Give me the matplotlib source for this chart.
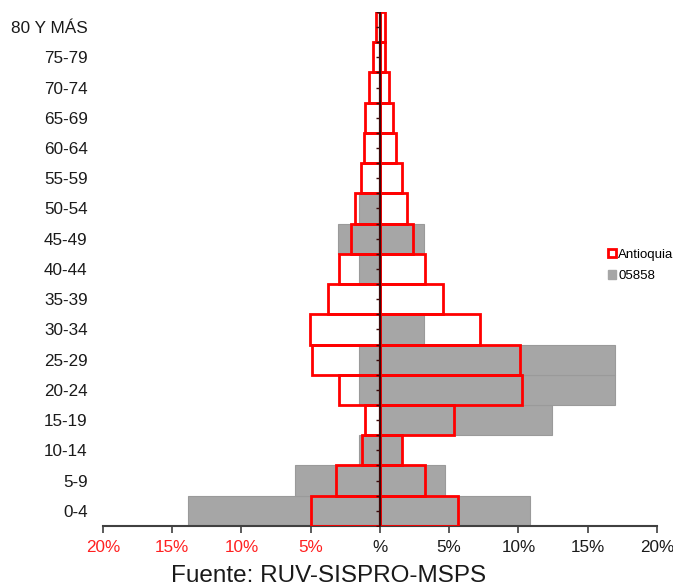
import matplotlib
matplotlib.use("Agg")
import matplotlib.pyplot as plt
from matplotlib.patches import Patch
import numpy as np

# age groups, bottom to top
grupos = ['0-4', '5-9', '10-14', '15-19', '20-24', '25-29', '30-34', '35-39',
          '40-44', '45-49', '50-54', '55-59', '60-64', '65-69', '70-74',
          '75-79', '80 Y MÁS']

# Antioquia (%), left side / right side
antioquia_izq = [4.96, 3.19, 1.30, 1.09, 2.95, 4.90, 5.05, 3.78, 2.95, 2.11,
                 1.77, 1.40, 1.18, 1.09, 0.81, 0.47, 0.31]
antioquia_der = [5.61, 3.26, 1.61, 5.33, 10.26, 10.11, 7.26, 4.59, 3.26, 2.39,
                 1.95, 1.58, 1.15, 0.93, 0.65, 0.40, 0.40]

# municipio 05858 (%)
mun_izq = [13.86, 6.14, 1.52, 0.0, 1.52, 1.52, 0.0, 0.0, 1.52, 3.05,
           1.52, 0.0, 0.0, 0.0, 0.0, 0.0, 0.0]
mun_der = [10.85, 4.68, 1.52, 12.40, 16.96, 16.96, 3.16, 0.0, 0.0, 3.15,
           0.0, 0.0, 0.0, 0.0, 0.0, 0.0, 0.0]

xticks = [-20, -15, -10, -5, 0, 5, 10, 15, 20]
xtick_labels = ['20%', '15%', '10%', '5%', '%', '5%', '10%', '15%', '20%']

fuente = ['Liberation Sans', 'DejaVu Sans']

fig = plt.figure(figsize=(6.73, 5.87), dpi=100)
ax = fig.add_axes([0.153, 0.104, 0.823, 0.8757])

y = np.arange(len(grupos))
izq_a = -np.array(antioquia_izq)
der_a = np.array(antioquia_der)
izq_m = -np.array(mun_izq)
der_m = np.array(mun_der)

# white fill of the Antioquia boxes
ax.barh(y, izq_a, height=1.0, color='white', zorder=1)
ax.barh(y, der_a, height=1.0, color='white', zorder=1)
# municipio bars
ax.barh(y, izq_m, height=1.0, color='#a6a6a6', edgecolor='#9a9a9a', linewidth=0.8, zorder=2)
ax.barh(y, der_m, height=1.0, color='#a6a6a6', edgecolor='#9a9a9a', linewidth=0.8, zorder=2)
# red outlines
ax.barh(y, izq_a, height=1.0, fill=False, edgecolor='#ff0000', linewidth=2.0, zorder=3)
ax.barh(y, der_a, height=1.0, fill=False, edgecolor='#ff0000', linewidth=2.0, zorder=3)

# center line with small ticks
ax.axvline(0, color='#3c0a0a', linewidth=1.6, zorder=4)
ax.plot(np.zeros(len(y)), y, linestyle='none', marker=0, markersize=3,
        color='#3c0a0a', zorder=4)
ax.plot(np.zeros(len(y) + 1), np.arange(len(y) + 1) - 0.5, linestyle='none',
        marker=0, markersize=3, color='#3c0a0a', zorder=4)

ax.set_xlim(-20, 20)
ax.set_ylim(-0.5, len(grupos) - 0.5)

ax.set_yticks(y)
ax.set_yticklabels(grupos, family=fuente, fontsize=12.3, color='#1a1a1a')
ax.tick_params(axis='y', length=0, pad=11)

ax.set_xticks(xticks)
ax.set_xticklabels(xtick_labels, family=fuente, fontsize=12.3)
for i, lbl in enumerate(ax.get_xticklabels()):
    lbl.set_color('#ff2020' if i < 4 else '#1a1a1a')
ax.tick_params(axis='x', direction='out', length=5, width=1.2, color='#404040', pad=5)

for s in ['left', 'top', 'right']:
    ax.spines[s].set_visible(False)
ax.spines['bottom'].set_color('#404040')
ax.spines['bottom'].set_linewidth(1.5)

handles = [Patch(facecolor='white', edgecolor='#ff0000', linewidth=2.0),
           Patch(facecolor='#a6a6a6', edgecolor='#a6a6a6')]
fig.legend(handles, ['Antioquia', '05858'], loc='upper left',
           bbox_to_anchor=(0.895, 0.585), frameon=False,
           prop={'family': 'Liberation Sans', 'size': 9.5},
           handlelength=0.6, handleheight=0.6, handletextpad=0.2,
           labelspacing=0.7, borderaxespad=0)

fig.text(0.488, 0.0, 'Fuente: RUV-SISPRO-MSPS', ha='center', va='bottom',
         family=fuente, fontsize=17.5, color='#1a1a1a')

fig.savefig('out.png', dpi=100)
